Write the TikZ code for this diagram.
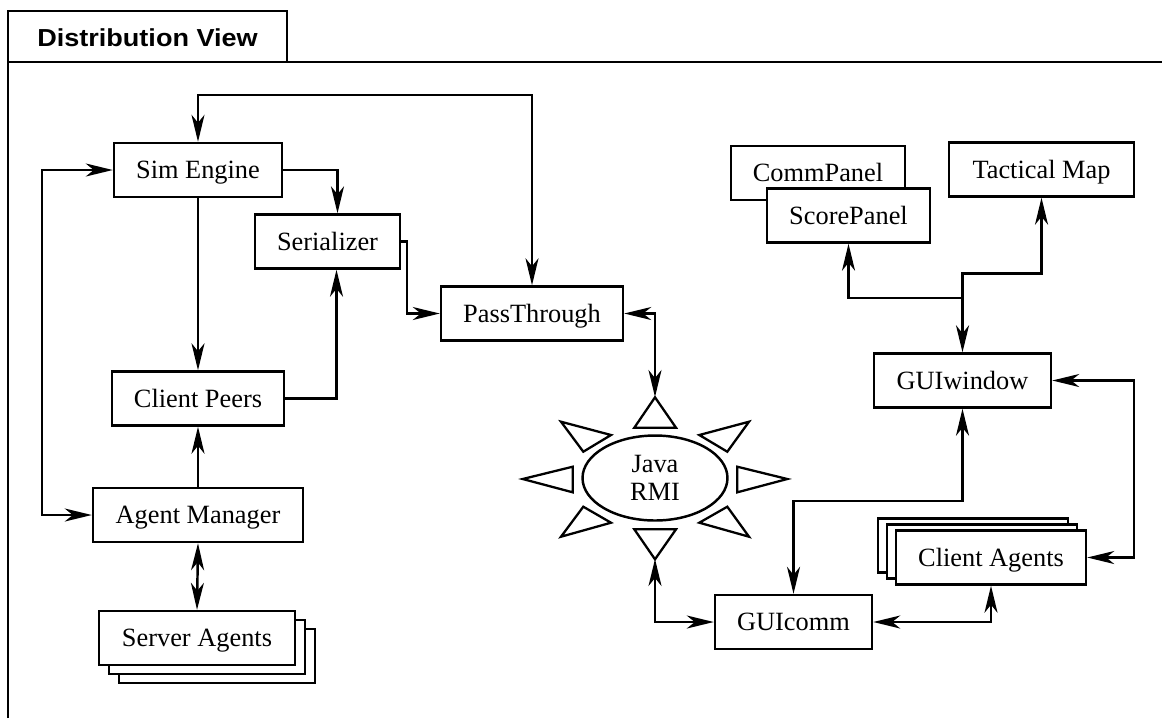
\documentclass[tikz,border=0pt]{standalone}
\usepackage{fontspec}
\setmainfont{Liberation Serif}
\newfontfamily\headfont{Liberation Sans}
\usepackage{tikz}
\usetikzlibrary{arrows.meta,shapes.geometric,shadows}
\usetikzlibrary{calc}

\tikzset{
  comp/.style={draw, line width=1.4pt, fill=white, inner sep=0pt, minimum height=1.08cm, text height=11.5pt, text depth=1.5pt},
  link/.style={line width=1.4pt, >={Stealth[length=0.54cm,width=0.26cm,inset=0.16cm]}},
  ray/.style={draw, line width=1.3pt, line join=miter},
  stackdr/.style={copy shadow={shadow xshift=0.4cm, shadow yshift=-0.36cm, line width=1.4pt}, copy shadow={shadow xshift=0.2cm, shadow yshift=-0.18cm, line width=1.4pt}},
  stackul/.style={copy shadow={shadow xshift=-0.36cm, shadow yshift=0.24cm, line width=1.4pt}, copy shadow={shadow xshift=-0.18cm, shadow yshift=0.12cm, line width=1.4pt}}
}

\begin{document}
\begin{tikzpicture}[x=0.02cm, y=-0.02cm, font=\fontsize{15}{16}\selectfont]
\useasboundingbox (0,0) rectangle (1162,718);
% frame and title tab
\draw[line width=1.4pt] (8,718) -- (8,11) -- (287,11) -- (287,62);
\draw[line width=1.4pt] (8,62) -- (1162,62);
\node[font=\headfont\bfseries\fontsize{14}{16}\selectfont, xscale=1.1] (title) at (147.5,38) {Distribution View};

% server side
\node[comp, minimum width=3.36cm] (sim) at (198,170) {Sim Engine};
\node[comp, minimum width=2.9cm] (ser) at (327.5,241.5) {Serializer};
\node[comp, minimum width=3.64cm] (pass) at (532,313.5) {PassThrough};
\node[comp, minimum width=3.44cm] (peers) at (198,398.5) {Client Peers};
\node[comp, minimum width=4.2cm] (mgr) at (198,515) {Agent Manager};
\node[comp, minimum width=3.92cm, stackdr] (srv) at (197,638) {Server Agents};

% client side
\node[comp, minimum width=3.48cm] (commp) at (818,173) {CommPanel};
\node[comp, minimum width=3.26cm] (score) at (848.5,215.5) {ScorePanel};
\node[comp, minimum width=3.7cm] (map) at (1041.5,169.5) {Tactical Map};
\node[comp, minimum width=3.54cm] (win) at (962.5,380.5) {GUIwindow};
\node[comp, minimum width=3.8cm, stackul] (agents) at (991,557.5) {Client Agents};
\node[comp, minimum width=3.14cm] (gcomm) at (793.5,622) {GUIcomm};

% java rmi
\node[draw, ellipse, line width=1.4pt, minimum width=2.9cm, minimum height=1.7cm, inner sep=0pt, align=center] (rmi) at (655,478) {Java\\RMI};
\draw[ray] (634.3,427.7) -- (676,427.7) -- (655,397.3) -- cycle;
\draw[ray] (634.3,529.3) -- (676,529.3) -- (655,559.3) -- cycle;
\draw[ray] (572.7,466.7) -- (572.7,492.3) -- (522.7,479) -- cycle;
\draw[ray] (737.3,466.7) -- (737.3,492.3) -- (787.3,479) -- cycle;
\draw[ray] (561,421.7) -- (611,435) -- (583.3,451.7) -- cycle;
\draw[ray] (749,421.7) -- (699.3,435) -- (727.3,451.7) -- cycle;
\draw[ray] (561,536.7) -- (611,522.7) -- (583.3,506.7) -- cycle;
\draw[ray] (749,536.7) -- (699.3,522.7) -- (727.3,506.7) -- cycle;
\coordinate (rmitop) at (655,397);
\coordinate (rmibot) at (655,559);
\coordinate (fork) at (962.5,298);

% connectors
\draw[link, <->] (sim.north) -- ++(0,-47) -| (pass.north);
\draw[link, ->] (sim.east) -| ([xshift=0.2cm]ser.north);
\draw[link, ->] (sim.south) -- (peers.north);
\draw[link, ->] (peers.east) -| ([xshift=0.18cm]ser.south);
\draw[link, ->] (ser.east) -- ++(6,0) |- (pass.west);
\draw[link, <->] (mgr.west) -- ++(-50,0) |- (sim.west);
\draw[link, ->] (mgr.north) -- (peers.south);
\draw[link, <->] (mgr.south) -- (srv.north);
\draw[link, <->] (pass.east) -| (rmitop);
\draw[link, <->] (rmibot) |- (gcomm.west);
\draw[link, <->] (gcomm.north) -- ++(0,-93) -| (win.south);
\draw[link, <->] (gcomm.east) -| (agents.south);
\draw[link, <->] (win.east) -- ++(82,0) |- (agents.east);
\draw[link, <->] (win.north) -- ++(0,-79) -| (map.south);
\draw[link, ->] (fork) -| (score.south);
\end{tikzpicture}
\end{document}
